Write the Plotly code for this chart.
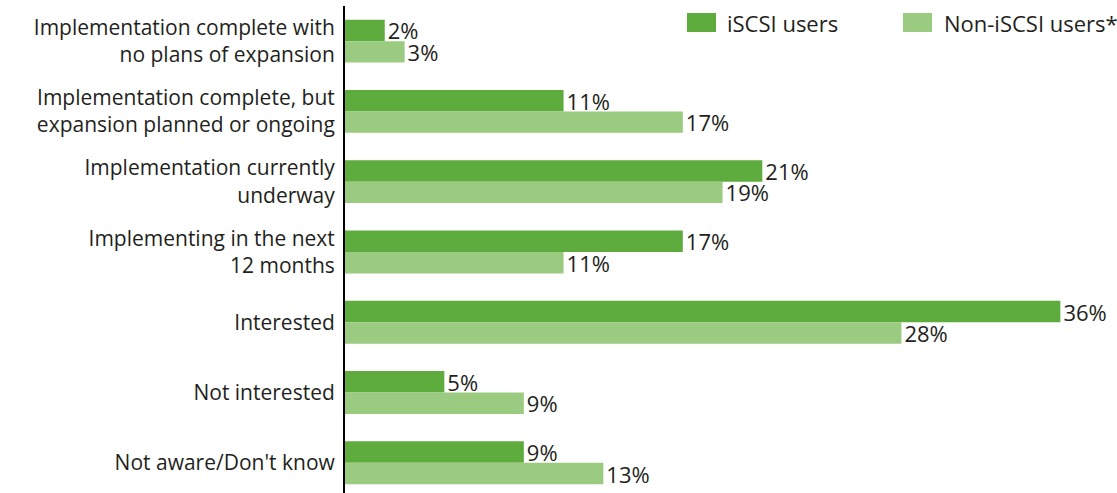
import plotly.graph_objects as go

categories = [
    "Implementation complete with<br>no plans of expansion",
    "Implementation complete, but<br>expansion planned or ongoing",
    "Implementation currently<br>underway",
    "Implementing in the next<br>12 months",
    "Interested",
    "Not interested",
    "Not aware/Don't know",
]
iscsi_users = [2, 11, 21, 17, 36, 5, 9]
non_iscsi_users = [3, 17, 19, 11, 28, 9, 13]
series_names = ["iSCSI users", "Non-iSCSI users*"]
colors = ["#5fac3e", "#9acb80"]

FONT = "Open Sans"
TXT = "#231f20"
idx = list(range(len(categories)))

fig = go.Figure()
for name, vals, col in zip(series_names, [iscsi_users, non_iscsi_users], colors):
    fig.add_trace(go.Bar(
        y=idx, x=vals, orientation="h", name=name,
        marker=dict(color=col, line=dict(width=0)),
        text=[f"{v}%" for v in vals], textposition="outside",
        constraintext="none",
        textfont=dict(family=FONT, size=22, color=TXT),
        cliponaxis=False, showlegend=False,
    ))

fig.update_layout(
    width=1117, height=493,
    margin=dict(l=345, r=0, t=6, b=0),
    barmode="group", bargap=0.39, bargroupgap=0,
    plot_bgcolor="white", paper_bgcolor="white",
    font=dict(family=FONT, color=TXT),
    xaxis=dict(range=[0, 38.85], visible=False, fixedrange=True),
    yaxis=dict(
        range=[6.43, -0.5], tickmode="array", tickvals=idx, ticktext=categories,
        tickfont=dict(family=FONT, size=21, color=TXT),
        showline=True, linecolor="black", linewidth=2,
        showgrid=False, zeroline=False, ticks="", ticklabelstandoff=4,
    ),
)

# legend drawn manually
legend_items = [(687, 725), (903, 942)]
for (bx, tx), name, col in zip(legend_items, series_names, colors):
    fig.add_shape(type="rect", xref="paper", yref="paper",
                  x0=(bx - 345) / 772, x1=(bx + 29 - 345) / 772,
                  y0=(487 - 26) / 487, y1=(487 - 7) / 487,
                  fillcolor=col, line=dict(width=0))
    fig.add_annotation(xref="paper", yref="paper", x=(tx - 345) / 772,
                       y=(487 - 17) / 487, text=name, showarrow=False,
                       xanchor="left", yanchor="middle",
                       font=dict(family=FONT, size=22, color=TXT))

fig.write_html("out.html")
